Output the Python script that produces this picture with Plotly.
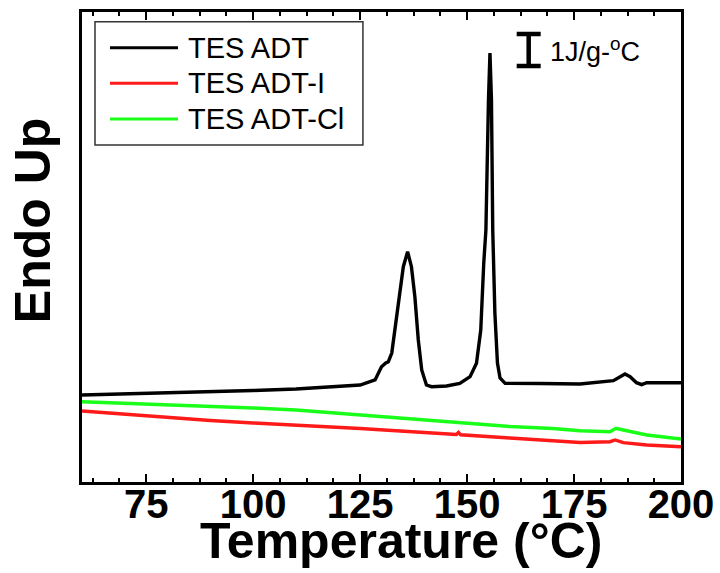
import plotly.graph_objects as go

# ---- data (temperature in °C, heat flow in J/g-°C, arbitrary offset) ----
tes_adt_T = [60, 70, 80, 90, 100, 110, 120, 125, 128.5, 130.0, 131.0, 131.6, 132.4, 133.1,
             134.3, 135.1, 136.1, 137.0, 137.8, 138.6, 139.4, 140.5, 141.7, 145.2, 148.3,
             150.7, 152.2, 153.2, 153.9, 154.4, 155.0, 155.35, 155.7, 156.0, 156.5, 157.1,
             157.7, 158.9, 167.0, 176.4, 184.2, 185.7, 186.9, 188.1, 189.6, 190.8, 192.0,
             195.1, 200]
tes_adt_H = [2.719, 2.750, 2.781, 2.813, 2.859, 2.906, 2.984, 3.031, 3.188, 3.603, 3.720,
             3.759, 4.031, 4.750, 6.000, 6.728, 7.197, 6.728, 5.791, 4.438, 3.500, 3.031,
             2.978, 3.000, 3.084, 3.291, 3.709, 4.750, 6.844, 7.875, 11.94, 13.406, 11.94,
             7.875, 5.281, 3.719, 3.250, 3.084, 3.078, 3.063, 3.166, 3.291, 3.375, 3.291,
             3.103, 3.041, 3.103, 3.103, 3.103]

tes_adt_i_T = [60, 75, 90, 100, 114.5, 125, 140, 147.5, 148, 148.5, 160, 170, 176.4, 183.4,
               184.6, 186.5, 192, 200]
tes_adt_i_H = [2.219, 2.063, 1.922, 1.844, 1.750, 1.672, 1.547, 1.484, 1.547, 1.475, 1.375,
               1.281, 1.234, 1.259, 1.313, 1.228, 1.156, 1.103]

tes_adt_cl_T = [60, 80, 90, 100, 110, 125, 140, 150, 160, 170, 176.4, 183.4, 184.8, 186.5,
                192, 200]
tes_adt_cl_H = [2.509, 2.422, 2.353, 2.313, 2.250, 2.094, 1.938, 1.813, 1.734, 1.672, 1.603,
                1.572, 1.678, 1.625, 1.469, 1.344]

series_names = ["TES ADT", "TES ADT-I", "TES ADT-Cl"]
series_colors = ["#000000", "#ff1a1a", "#1aff1a"]
x_tick_vals = [75, 100, 125, 150, 175, 200]
x_tick_text = ["75", "100", "125", "150", "175", "200"]

# scale bar: 1 J/g-°C
scale_T = [164.4]
scale_mid = [13.5]
scale_half = [0.5]

fig = go.Figure()
for T, H, name, col in zip([tes_adt_T, tes_adt_i_T, tes_adt_cl_T],
                           [tes_adt_H, tes_adt_i_H, tes_adt_cl_H],
                           series_names, series_colors):
    fig.add_trace(go.Scatter(x=T, y=H, mode="lines", name=name,
                             line=dict(color=col, width=3.4), showlegend=False))

fig.add_trace(go.Scatter(x=scale_T, y=scale_mid, mode="markers",
                         marker=dict(size=1, color="black"),
                         error_y=dict(type="data", array=scale_half, visible=True,
                                      color="black", thickness=4.5, width=12),
                         showlegend=False, hoverinfo="skip"))

fig.add_annotation(x=scale_T[0] + 4.5, y=scale_mid[0], xref="x", yref="y",
                   text="1J/g-<sup>o</sup>C", showarrow=False, xanchor="left",
                   yanchor="middle", font=dict(family="Arial, Liberation Sans", size=27,
                                               color="black"))

# manual legend
fig.add_shape(type="rect", xref="paper", yref="paper", x0=0.0217, x1=0.469,
              y0=0.717, y1=0.979, line=dict(color="#333333", width=1.5),
              fillcolor="white", layer="above")
rows_y = [0.9241, 0.8483, 0.7723]
for name, col, ry in zip(series_names, series_colors, rows_y):
    fig.add_shape(type="line", xref="paper", yref="paper", x0=0.0467, x1=0.1603,
                  y0=ry, y1=ry, line=dict(color=col, width=3), layer="above")
    fig.add_annotation(x=0.1736, y=ry, xref="paper", yref="paper", text=name,
                       showarrow=False, xanchor="left", yanchor="middle",
                       font=dict(family="Arial, Liberation Sans", size=29, color="black"))

# axis titles
fig.add_annotation(x=0.5326, y=-0.125, xref="paper", yref="paper",
                   text="<b>Temperature (°C)</b>", showarrow=False,
                   xanchor="center", yanchor="middle",
                   font=dict(family="Arial, Liberation Sans", size=50, color="black"))
fig.add_annotation(x=-0.0818, y=0.557, xref="paper", yref="paper",
                   text="<b>Endo Up</b>", showarrow=False, textangle=-90,
                   xanchor="center", yanchor="middle",
                   font=dict(family="Arial, Liberation Sans", size=50, color="black"))

fig.update_layout(
    width=720, height=573,
    margin=dict(l=82, r=39, t=12, b=91, autoexpand=False),
    plot_bgcolor="white", paper_bgcolor="white",
    xaxis=dict(range=[60, 200], tickmode="array", tickvals=x_tick_vals,
               ticktext=x_tick_text, ticks="inside", ticklen=8, tickwidth=2,
               tickcolor="black", showline=True, linecolor="black", linewidth=3,
               mirror="ticks", showgrid=False, zeroline=False, automargin=False,
               ticklabelstandoff=-15,
               tickfont=dict(family="Arial, Liberation Sans", size=40, color="black",
                             weight="bold"),
               minor=dict(dtick=6.25, tick0=0, ticks="inside", ticklen=4,
                          tickwidth=2, tickcolor="black", showgrid=False)),
    yaxis=dict(range=[0, 14.6875], showticklabels=False, ticks="",
               showline=True, linecolor="black", linewidth=3, mirror=True,
               showgrid=False, zeroline=False, automargin=False),
)

fig.write_html("out.html")
